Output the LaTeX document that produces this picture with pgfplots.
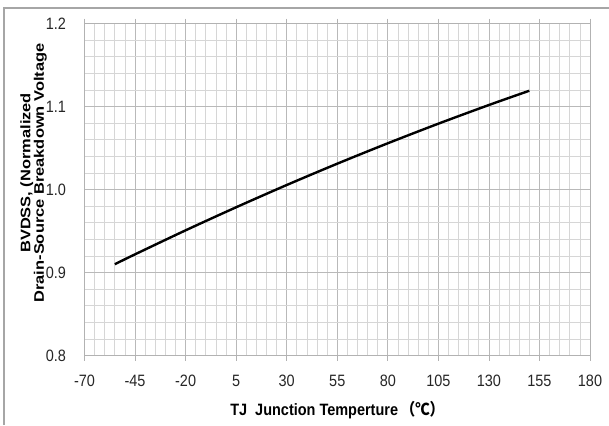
\documentclass[border=0pt]{standalone}
\usepackage{pgfplots}
\pgfplotsset{compat=1.18}
\usepackage{graphicx}
\usepackage{fontspec}
\setmainfont{Liberation Sans}[FakeStretch=0.88]
\newfontfamily\ylab{Liberation Sans}
\newfontfamily\cjk{Noto Sans CJK SC}[FakeStretch=0.88]
\begin{document}
\begin{tikzpicture}[x=1bp,y=1bp]
\path[use as bounding box] (0,0) rectangle (609,425);
\draw[gray!70, line width=1.2bp] (4,0) -- (4,417) -- (609,417);
\begin{axis}[
  at={(84.5bp,69.5bp)}, anchor=south west,
  scale only axis, width=505.5bp, height=332bp,
  xmin=-70, xmax=180, ymin=0.8, ymax=1.2,
  xtick={-70,-45,-20,5,30,55,80,105,130,155,180},
  ytick={0.8,0.9,1.0,1.1,1.2},
  minor x tick num=4, minor y tick num=4,
  grid=both,
  major grid style={gray!55, line width=0.8bp},
  minor grid style={gray!32, line width=0.8bp},
  axis line style={gray!60, line width=0.8bp},
  xtick style={gray!60, line width=0.8bp},
  ytick style={draw=none},
  minor tick style={draw=none},
  tick align=outside, major tick length=5bp,
  /pgf/number format/assume math mode=true,
  yticklabel style={/pgf/number format/fixed, /pgf/number format/fixed zerofill, /pgf/number format/precision=1, xshift=-10bp},
  xticklabel style={yshift=-11bp},
  ticklabel style={font=\fontsize{16.5}{18}\selectfont, text=black!85},
  xlabel={\bfseries TJ\ \ Junction Temperture\,{\cjk （℃）}},
  xlabel style={font=\fontsize{16.5}{18}\selectfont, at={(axis description cs:0.5,0)}, xshift=0bp, yshift=-54.5bp, anchor=center},
  ylabel={\scalebox{1}[0.84]{\renewcommand\arraystretch{0.8}\begin{tabular}{@{}c@{}}BVDSS, (Normalized\\Drain-Source Breakdown Voltage\end{tabular}}},
  ylabel style={font=\ylab\fontsize{16.5}{18}\selectfont\bfseries, inner sep=0pt, at={(axis description cs:-0.1,0.55)}, anchor=center},
]
\addplot[black, line width=2.4bp, smooth] coordinates {
  (-55,0.9100) (-45,0.9219) (-20,0.9508) (5,0.9786) (30,1.0054)
  (55,1.0311) (80,1.0557) (105,1.0793) (130,1.1018) (150,1.1190)
};
\end{axis}
\end{tikzpicture}
\end{document}
